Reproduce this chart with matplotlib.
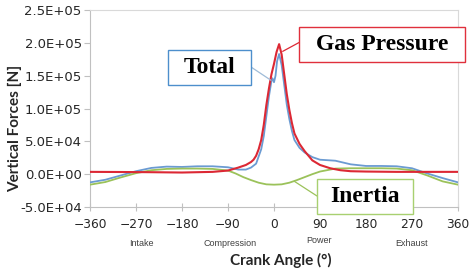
import matplotlib
matplotlib.use("Agg")
import matplotlib.pyplot as plt
from matplotlib.patches import Rectangle
from matplotlib.ticker import FuncFormatter

# crank angle (deg) and vertical forces (kN)
angle_gas = [-360, -300, -240, -180, -120, -90, -70, -55, -45, -40, -35, -30,
             -25, -20, -15, -10, -5, 0, 5, 10, 15, 20, 25, 30, 35, 40, 50, 60,
             75, 90, 110, 130, 150, 180, 240, 300, 360]
gas_kN = [3.5, 3.3, 3.0, 2.5, 3.5, 5.5, 10, 14, 18.5, 22, 28, 38,
          52, 75, 105, 130, 152, 168, 186, 198, 182, 152, 122, 98, 78, 62, 46, 35,
          21, 14, 9, 6, 4.5, 4, 3.5, 3.5, 3.5]

angle_tot = [-360, -330, -300, -270, -240, -210, -180, -150, -120, -90, -70,
             -55, -45, -35, -25, -20, -15, -10, -5, -3, 0, 3, 6, 10, 15, 20,
             25, 30, 35, 40, 50, 60, 75, 90, 120, 150, 180, 210, 240, 270,
             300, 330, 360]
total_kN = [-12.5, -8.5, -2, 4.5, 9.5, 11.5, 11, 12, 12, 10.5, 7,
            7, 10, 16, 38, 58, 88, 118, 142, 146, 140, 150, 172, 183, 166, 136,
            106, 84, 66, 52, 40, 33, 26, 22, 20.5, 15, 12.5, 12.5, 12, 9,
            1, -6, -12.5]

angle_in = [-360, -330, -300, -270, -240, -210, -180, -150, -120, -90, -75,
            -60, -45, -30, -15, 0, 15, 30, 45, 60, 75, 90, 120, 150, 180, 210,
            240, 270, 300, 330, 360]
inertia_kN = [-16, -12, -5, 1.5, 6, 8, 8.5, 8.5, 8, 5.5, 1,
              -4.5, -9, -13, -15.5, -16, -15.5, -13, -9, -4.5, 0, 4, 8.5, 9, 9, 9,
              8.5, 6, -2, -11, -16]

x_ticks = [-360, -270, -180, -90, 0, 90, 180, 270, 360]
phase_labels = ["Intake", "Compression", "Power", "Exhaust"]
phase_pos = [-260, -85, 88, 270]

W, H = 474, 272
fig = plt.figure(figsize=(W / 100, H / 100), dpi=100)
ax = fig.add_axes([90 / W, 1 - 207 / H, 368 / W, 197 / H])


def px(x, y):
    # pixel position (from top-left) -> figure fraction
    return x / W, 1 - y / H


blue, green, red = "#6b9bd2", "#9bc25a", "#dc2834"
ax.plot(angle_tot, [v * 1e3 for v in total_kN], color=blue, lw=1.3, zorder=3)
ax.plot(angle_in, [v * 1e3 for v in inertia_kN], color=green, lw=1.3, zorder=3)
ax.plot(angle_gas, [v * 1e3 for v in gas_kN], color=red, lw=1.5, zorder=4)

ax.set_xlim(-360, 360)
ax.set_ylim(-5e4, 2.5e5)
ax.set_xticks(x_ticks)
ax.set_yticks([-5e4, 0, 5e4, 1e5, 1.5e5, 2e5, 2.5e5])
ax.yaxis.set_major_formatter(FuncFormatter(lambda v, p: f"{v:.1E}"))

for s in ax.spines.values():
    s.set_color("#d9d9d9")
ax.spines["left"].set_color("#c0c0c0")
ax.spines["bottom"].set_color("#c0c0c0")
ax.tick_params(axis="y", direction="out", length=4, color="#c0c0c0",
               labelsize=9.5, labelcolor="#262626", pad=2)
ax.tick_params(axis="x", direction="inout", length=6, color="#c0c0c0",
               labelsize=8.8, labelcolor="#262626", pad=5)

trans = ax.get_xaxis_transform()
for lab, xp in zip(phase_labels, phase_pos):
    yy = -0.172 if lab == "Power" else -0.183
    ax.text(xp, yy, lab, transform=trans, ha="center", va="center",
            fontsize=6.5, family="Liberation Sans", color="#404040")

fig.text(*px(281, 260), "Crank Angle (°)", ha="center", va="center",
         fontsize=11, fontweight="bold", family="Lato", color="#262626")
fig.text(*px(15, 128), "Vertical Forces [N]", ha="center", va="center",
         rotation=90, fontsize=11, fontweight="bold", family="Lato",
         color="#262626")

# callout boxes: (text, colour, left, top, right, bottom in px, line end in data)
callouts = [
    ("Total", "#4d8fcc", (168, 50, 251, 85), (251, 67), (-6, 1.43e5), "#9fbcd8"),
    ("Gas Pressure", "#e0303c", (299, 27, 465, 62), (300, 42), (17, 1.87e5), red),
    ("Inertia", "#a8d070", (317, 179, 413, 214), (317, 196), (40, -1.1e4), green),
]
for text, ec, (l, t, r, b), start, end, lc in callouts:
    x0, y0 = px(l, b)
    x1, y1 = px(r, t)
    fig.patches.append(Rectangle((x0, y0), x1 - x0, y1 - y0,
                                 transform=fig.transFigure, facecolor="white",
                                 edgecolor=ec, lw=1.0, zorder=5))
    fig.text((x0 + x1) / 2, (y0 + y1) / 2, text, ha="center", va="center",
             fontsize=17, fontweight="bold", family="Liberation Serif",
             color="black", zorder=6)
    ax.annotate("", xy=end, xycoords="data", xytext=px(*start),
                textcoords="figure fraction",
                arrowprops=dict(arrowstyle="-", color=lc, lw=0.9,
                                shrinkA=0, shrinkB=0), zorder=5)

fig.savefig("out.png", dpi=100)
